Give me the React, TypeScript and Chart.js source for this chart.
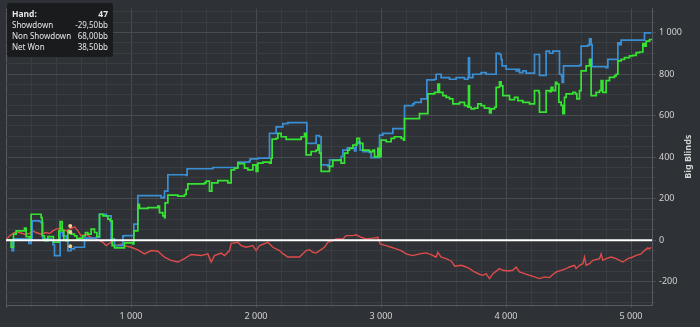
import React, { useEffect, useRef } from 'react';
import { Chart, registerables } from 'chart.js';

Chart.register(...registerables);

// ---- Data (hand number -> big blinds) ----
const nonShowdownHands = [0, 41, 49, 60, 175, 183, 201, 209, 268, 281, 295, 361, 375, 388, 428, 433, 455, 481, 495, 521, 548, 615, 628, 721, 748, 775, 801, 828, 841, 868, 921, 935, 948, 1015, 1023, 1049, 1055, 1241, 1263, 1268, 1295, 1441, 1449, 1641, 1655, 1828, 1855, 1948, 1953, 2015, 2103, 2108, 2156, 2161, 2209, 2215, 2255, 2401, 2407, 2476, 2481, 2508, 2521, 2575, 2588, 2668, 2681, 2695, 2730, 2788, 2801, 2823, 2833, 2855, 2908, 2921, 2961, 2988, 3015, 3089, 3095, 3175, 3188, 3255, 3268, 3308, 3321, 3361, 3367, 3428, 3441, 3468, 3481, 3540, 3548, 3601, 3668, 3695, 3700, 3708, 3735, 3801, 3841, 3916, 3921, 3948, 3961, 3969, 4001, 4081, 4095, 4108, 4135, 4161, 4220, 4228, 4263, 4268, 4313, 4321, 4348, 4375, 4415, 4428, 4444, 4449, 4460, 4588, 4601, 4655, 4668, 4681, 4689, 4801, 4815, 4881, 4895, 4908, 4921, 5095, 5108, 5161];
const nonShowdownValues = [0, 0, -50, 6, 6, -15, 6, 93, 90, 85, 6, 1, -21, -74, -74, 37, 21, -2, -50, -42, -34, -34, 10, 13, 125, 125, 117, 117, 6, -26, -26, 21, 22, 22, 77, 77, 215, 204, 207, 236, 315, 312, 344, 344, 350, 350, 376, 382, 392, 395, 395, 514, 514, 546, 546, 561, 566, 566, 466, 466, 503, 498, 363, 355, 387, 387, 403, 434, 445, 430, 466, 474, 434, 426, 423, 398, 398, 506, 514, 514, 537, 537, 648, 656, 664, 664, 680, 680, 772, 775, 799, 799, 783, 783, 775, 783, 775, 783, 878, 783, 799, 807, 799, 799, 899, 894, 870, 839, 823, 815, 823, 807, 815, 804, 804, 894, 894, 794, 794, 910, 900, 910, 910, 799, 791, 760, 839, 842, 934, 939, 969, 942, 836, 831, 871, 871, 950, 942, 963, 963, 998, 998];

const netWonHands = [0, 41, 60, 81, 135, 148, 161, 188, 201, 268, 281, 289, 308, 335, 361, 380, 401, 423, 433, 449, 463, 481, 495, 521, 548, 567, 588, 615, 636, 655, 681, 708, 727, 748, 775, 815, 833, 849, 868, 921, 948, 1015, 1023, 1049, 1055, 1068, 1135, 1215, 1228, 1255, 1268, 1273, 1295, 1375, 1428, 1441, 1455, 1588, 1601, 1628, 1647, 1695, 1775, 1801, 1828, 1855, 1868, 1908, 1935, 1975, 2001, 2015, 2055, 2108, 2121, 2129, 2161, 2175, 2201, 2241, 2348, 2361, 2388, 2401, 2441, 2481, 2495, 2508, 2521, 2575, 2588, 2615, 2668, 2681, 2708, 2735, 2748, 2775, 2807, 2828, 2855, 2895, 2908, 2935, 2948, 2975, 2988, 3001, 3041, 3081, 3108, 3135, 3161, 3180, 3188, 3281, 3308, 3367, 3375, 3428, 3455, 3468, 3495, 3521, 3548, 3575, 3628, 3668, 3695, 3700, 3708, 3721, 3748, 3775, 3801, 3828, 3868, 3881, 3908, 3921, 3948, 3961, 3975, 4028, 4068, 4095, 4135, 4188, 4220, 4228, 4263, 4268, 4313, 4321, 4348, 4361, 4375, 4396, 4407, 4423, 4441, 4455, 4468, 4481, 4535, 4556, 4567, 4588, 4601, 4641, 4668, 4681, 4721, 4748, 4761, 4775, 4801, 4828, 4868, 4881, 4895, 4921, 4948, 4988, 5015, 5041, 5068, 5095, 5108, 5121, 5148, 5161];
const netWonValues = [0, -34, 29, 45, 45, 58, 17, 10, 125, 125, 109, 21, -2, 17, 17, -10, -10, 45, 90, 45, 1, -2, 45, 29, 21, 6, 10, 21, 37, 29, 53, 37, 17, 125, 117, 101, 93, -26, -37, -37, -13, -18, 45, 45, 172, 153, 157, 164, 133, 117, 109, 180, 217, 212, 220, 244, 271, 276, 284, 236, 276, 287, 276, 339, 347, 371, 368, 347, 339, 363, 331, 371, 376, 371, 395, 487, 490, 514, 498, 485, 485, 498, 514, 411, 427, 434, 458, 419, 331, 331, 355, 384, 387, 371, 419, 434, 442, 458, 490, 466, 434, 434, 426, 434, 402, 442, 402, 482, 474, 490, 498, 498, 490, 482, 585, 585, 609, 609, 704, 712, 752, 712, 696, 688, 680, 656, 664, 648, 640, 743, 640, 632, 636, 656, 648, 636, 613, 632, 640, 736, 762, 743, 696, 677, 688, 672, 664, 656, 656, 720, 712, 617, 617, 720, 715, 736, 720, 760, 752, 665, 649, 609, 688, 704, 712, 704, 680, 720, 815, 839, 871, 696, 712, 720, 768, 712, 768, 784, 791, 799, 863, 871, 879, 887, 890, 903, 906, 947, 934, 958, 966, 963];

const showdownHands = [0, 28, 68, 108, 148, 188, 215, 241, 281, 321, 348, 375, 401, 441, 481, 508, 548, 575, 601, 641, 681, 721, 748, 775, 801, 841, 881, 921, 948, 1001, 1055, 1108, 1161, 1215, 1268, 1321, 1375, 1428, 1481, 1561, 1615, 1641, 1668, 1721, 1748, 1788, 1801, 1855, 1881, 1921, 1975, 2001, 2028, 2095, 2135, 2188, 2215, 2255, 2348, 2375, 2401, 2428, 2455, 2481, 2508, 2548, 2575, 2615, 2641, 2695, 2721, 2775, 2801, 2841, 2881, 2935, 2975, 2993, 3041, 3081, 3121, 3161, 3201, 3255, 3308, 3361, 3401, 3441, 3455, 3481, 3521, 3561, 3590, 3641, 3681, 3708, 3748, 3788, 3815, 3841, 3868, 3895, 3948, 3975, 4015, 4055, 4081, 4108, 4148, 4188, 4228, 4268, 4308, 4348, 4375, 4401, 4441, 4481, 4508, 4548, 4561, 4588, 4615, 4628, 4641, 4668, 4695, 4748, 4761, 4775, 4801, 4841, 4881, 4935, 4975, 5015, 5041, 5081, 5108, 5135, 5148, 5161];
const showdownValues = [0, 21, 37, 37, 29, 32, 45, 37, 29, 37, 32, 45, 53, 58, 45, 53, 64, 45, 21, 29, 13, 6, -2, -10, -26, -10, -26, -18, -26, -34, -47, -66, -50, -53, -82, -97, -105, -89, -69, -74, -66, -105, -74, -62, -74, -50, -15, -10, -26, -34, -26, -50, -26, -10, -34, -50, -65, -81, -81, -65, -50, -46, -58, -62, -50, -34, -10, -2, 6, 6, 22, 22, 26, 14, 6, 10, 14, -18, -26, -34, -42, -50, -66, -74, -66, -61, -69, -82, -58, -82, -89, -100, -125, -121, -129, -137, -153, -164, -169, -161, -185, -161, -137, -145, -148, -145, -129, -153, -161, -169, -177, -185, -177, -180, -165, -153, -145, -137, -129, -121, -137, -121, -113, -81, -121, -113, -97, -89, -66, -97, -89, -81, -89, -105, -89, -81, -73, -66, -50, -37, -42, -34];

// Hover marker (stale tooltip position)
const hoverHand = 514;
const hoverValues = [68, 38.5, -29.5];
const tooltipTitle = ['Hand:', '47'];
const tooltipRows = [
  ['Showdown', '-29,50bb'],
  ['Non Showdown', '68,00bb'],
  ['Net Won', '38,50bb'],
];

// Axes
const xMajorTicks = [1000, 2000, 3000, 4000, 5000];
const yMajorTicks = [-200, 0, 200, 400, 600, 800, 1000];
const axisTitle = 'Big Blinds';

const FONT = '"Noto Sans", "Open Sans", sans-serif';
const BG = '#2e3135';
const GRID_MAJOR = '#484b50';
const GRID_MINOR = '#393c40';
const BORDER = '#585b60';
const TEXT = '#d2d2d2';

const zip = (xs: number[], ys: number[]) => xs.map((x, i) => ({ x, y: ys[i] }));
const fmt = (v: number) => String(v).replace(/\B(?=(\d{3})+(?!\d))/g, ' ');

export default function App() {
  const ref = useRef<HTMLCanvasElement | null>(null);

  useEffect(() => {
    document.body.style.margin = '0';
    const canvas = ref.current;
    if (!canvas) return;

    const xTickVals: number[] = [];
    for (let v = 0; v <= 5000; v += 200) xTickVals.push(v);
    const yTickVals: number[] = [];
    for (let v = -300; v <= 1100; v += 50) yTickVals.push(v);

    const bgPlugin = {
      id: 'bg',
      beforeDraw(chart: any) {
        const c = chart.ctx;
        c.save();
        c.fillStyle = BG;
        c.fillRect(0, 0, chart.width, chart.height);
        c.restore();
      },
    };

    const zeroLine = {
      id: 'zeroLine',
      afterDatasetsDraw(chart: any) {
        const c = chart.ctx;
        const y = chart.scales.y.getPixelForValue(0);
        const a = chart.chartArea;
        c.save();
        c.strokeStyle = '#ffffff';
        c.lineWidth = 2;
        c.beginPath();
        c.moveTo(a.left, y);
        c.lineTo(a.right, y);
        c.stroke();
        c.restore();
      },
    };

    const overlay = {
      id: 'overlay',
      afterDraw(chart: any) {
        const c = chart.ctx;
        const a = chart.chartArea;
        c.save();
        c.fillStyle = TEXT;
        c.font = `bold 9px ${FONT}`;
        c.textAlign = 'center';
        c.textBaseline = 'middle';
        c.translate(688, (a.top + a.bottom) / 2);
        c.rotate(-Math.PI / 2);
        c.fillText(axisTitle, 0, 0);
        c.restore();

        c.save();
        const bx = 7, by = 3, bw = 106, bh = 54, r = 3;
        c.fillStyle = 'rgba(24,25,27,0.92)';
        c.beginPath();
        c.moveTo(bx + r, by);
        c.lineTo(bx + bw - r, by);
        c.quadraticCurveTo(bx + bw, by, bx + bw, by + r);
        c.lineTo(bx + bw, by + bh - r);
        c.quadraticCurveTo(bx + bw, by + bh, bx + bw - r, by + bh);
        c.lineTo(bx + r, by + bh);
        c.quadraticCurveTo(bx, by + bh, bx, by + bh - r);
        c.lineTo(bx, by + r);
        c.quadraticCurveTo(bx, by, bx + r, by);
        c.fill();
        c.fillStyle = '#e6e6e6';
        c.textBaseline = 'middle';
        c.font = `bold 8.5px ${FONT}`;
        c.textAlign = 'left';
        c.fillText(tooltipTitle[0], 12, 15);
        c.textAlign = 'right';
        c.fillText(tooltipTitle[1], 108, 15);
        c.font = `8px ${FONT}`;
        tooltipRows.forEach((row, i) => {
          const y = 26 + i * 11;
          c.textAlign = 'left';
          c.fillText(row[0], 12, y);
          c.textAlign = 'right';
          c.fillText(row[1], 108, y);
        });
        c.restore();
      },
    };

    const chart = new Chart(canvas, {
      type: 'line',
      data: {
        datasets: [
          {
            type: 'scatter',
            label: 'hover',
            data: hoverValues.map((y) => ({ x: hoverHand, y })),
            pointRadius: 2,
            pointBackgroundColor: '#f2cf8c',
            pointBorderWidth: 0,
            showLine: false,
          } as any,
          {
            label: 'Net Won',
            data: zip(netWonHands, netWonValues),
            borderColor: '#36e232',
            borderWidth: 1.7,
            pointRadius: 0,
            stepped: 'before',
            fill: false,
          },
          {
            label: 'Non Showdown',
            data: zip(nonShowdownHands, nonShowdownValues),
            borderColor: '#3a8fd4',
            borderWidth: 1.7,
            pointRadius: 0,
            stepped: 'before',
            fill: false,
          },
          {
            label: 'Showdown',
            data: zip(showdownHands, showdownValues),
            borderColor: '#e04b4b',
            borderWidth: 1.4,
            pointRadius: 0,
            tension: 0,
            fill: false,
          },
        ],
      },
      options: {
        animation: false,
        responsive: false,
        maintainAspectRatio: false,
        events: [],
        layout: { padding: { left: 6, top: 5, right: 0, bottom: 0 } },
        plugins: { legend: { display: false }, tooltip: { enabled: false } },
        scales: {
          x: {
            type: 'linear',
            min: 0,
            max: 5168,
            afterBuildTicks: (s: any) => {
              s.ticks = xTickVals.map((v) => ({ value: v }));
            },
            afterFit: (s: any) => {
              s.height = 22;
            },
            grid: {
              color: (ctx: any) => {
                const v = ctx.tick ? ctx.tick.value : 1;
                if (v === 0) return BORDER;
                return v % 1000 === 0 ? GRID_MAJOR : GRID_MINOR;
              },
              tickLength: 3,
            },
            border: { color: BORDER },
            ticks: {
              autoSkip: false,
              maxRotation: 0,
              padding: 3,
              color: TEXT,
              font: { size: 9, family: FONT },
              callback: (v: any) => (xMajorTicks.includes(v) ? fmt(v) : ''),
            },
          },
          y: {
            type: 'linear',
            position: 'right',
            min: -312,
            max: 1116,
            afterBuildTicks: (s: any) => {
              s.ticks = yTickVals.map((v) => ({ value: v }));
            },
            afterFit: (s: any) => {
              s.width = 48;
            },
            grid: {
              color: (ctx: any) => {
                const v = ctx.tick ? ctx.tick.value : 1;
                return v % 200 === 0 ? GRID_MAJOR : GRID_MINOR;
              },
              tickLength: 4,
            },
            border: { color: BORDER },
            ticks: {
              autoSkip: false,
              padding: 3,
              color: TEXT,
              font: { size: 9, family: FONT },
              callback: (v: any) => (yMajorTicks.includes(v) ? fmt(v) : ''),
            },
          },
        },
      },
      plugins: [bgPlugin, zeroLine, overlay],
    });

    return () => chart.destroy();
  }, []);

  return (
    <div style={{ width: 700, height: 327 }}>
      <canvas ref={ref} width={700} height={327} style={{ display: 'block' }} />
    </div>
  );
}
